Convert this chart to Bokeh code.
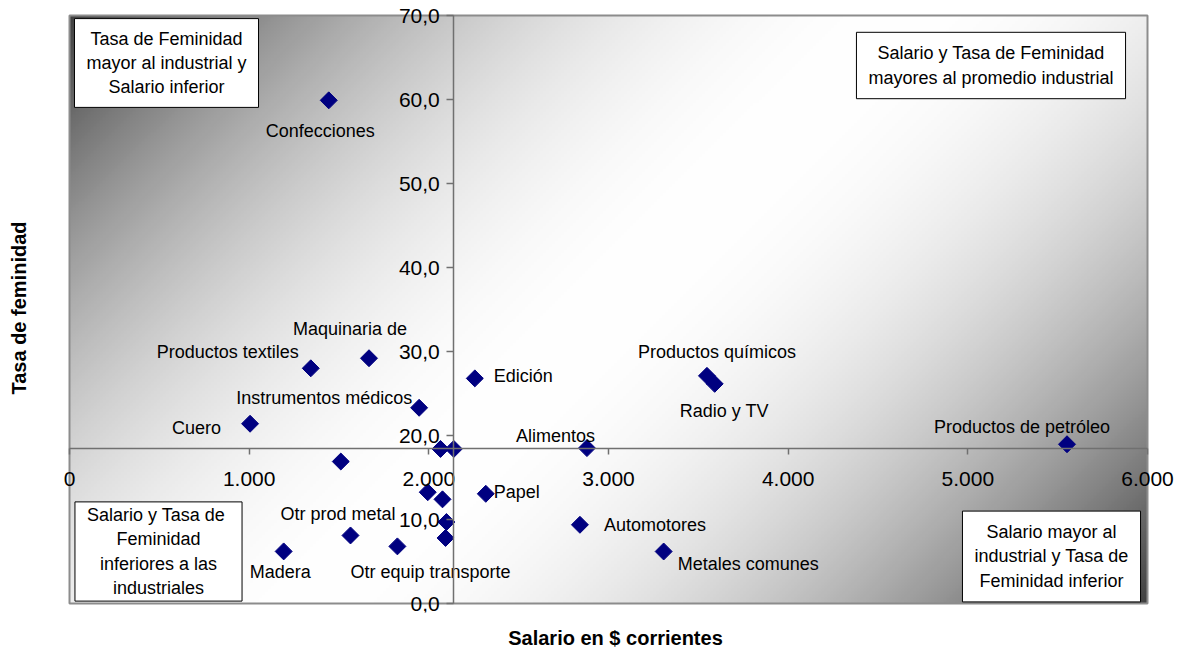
import numpy as np
from math import pi
from bokeh.plotting import figure
from bokeh.models import (Range1d, FixedTicker, CustomJSTickFormatter, Label,
                          ColumnDataSource, LinearAxis)
from bokeh.core.properties import value
from bokeh.embed import file_html
from bokeh.resources import INLINE

# ---------------- data ----------------
sectores = ["Confecciones", "Productos textiles", "Maquinaria de", "Instrumentos médicos",
            "Cuero", "Otr prod metal", "Madera", "Otr equip transporte", "Edición",
            "Productos químicos", "Radio y TV", "Alimentos", "Productos de petróleo",
            "Papel", "Automotores", "Metales comunes",
            "", "", "", "", "", "", ""]
salario = [1443, 1343, 1667, 1946, 1005, 1564, 1192, 1825, 2256,
           3548, 3591, 2880, 5552, 2317, 2841, 3307,
           2065, 2139, 1510, 1994, 2076, 2098, 2093]
feminidad = [59.9, 28.0, 29.2, 23.3, 21.4, 8.1, 6.2, 6.8, 26.8,
             27.1, 26.15, 18.5, 18.96, 13.06, 9.37, 6.19,
             18.4, 18.4, 16.9, 13.25, 12.4, 9.7, 7.8]
salario_promedio = 2139
feminidad_promedio = 18.5
x_ticks = [0, 1000, 2000, 3000, 4000, 5000, 6000]
y_ticks = [0, 10, 20, 30, 40, 50, 60, 70]

cuadrantes = [
    "Tasa de Feminidad\nmayor al industrial y\nSalario inferior",
    "Salario y Tasa de Feminidad\nmayores al promedio industrial",
    "Salario y  Tasa de\nFeminidad\ninferiores a las\nindustriales",
    "Salario mayor al\nindustrial y Tasa de\nFeminidad inferior",
]
titulo_x = "Salario en $ corrientes"
titulo_y = "Tasa de feminidad"

# ---------------- style ----------------
FONT = "Liberation Sans"
label_dx = [-63, -154, -76, -183, -78, -70, -34, -47, 19, -69, -35, -71, -133, 8, 24, 14]
label_dy = [31, -16, -29, -10, 4, -21, 21, 26, -2, -24, 27, -12, -17, -2, 0, 12]

# plot area (gradient box) is 1078 x 588 px; the frame is padded so tick labels are not cut
PA_W, PA_H = 1078, 588
PAD_L, PAD_R, PAD_T, PAD_B = 14, 28, 12, 9
x0, x1 = x_ticks[0], x_ticks[-1]
y0, y1 = y_ticks[0], y_ticks[-1]
sx = (x1 - x0) / PA_W
sy = (y1 - y0) / PA_H
box_pos = [(111, 549.5), (935.5, 547), (103, 61), (996, 56)]
box_vpad = [10, 11, 3, 11]

p = figure(width=1184, height=652,
           x_range=Range1d(x0 - PAD_L * sx, x1 + PAD_R * sx),
           y_range=Range1d(y0 - PAD_B * sy, y1 + PAD_T * sy),
           output_backend="svg", toolbar_location=None,
           min_border_left=69 - PAD_L, min_border_right=1184 - 1147 - PAD_R,
           min_border_top=15 - PAD_T, min_border_bottom=652 - 603 - PAD_B)
p.title.visible = False
p.background_fill_color = "white"
p.border_fill_color = "white"
p.outline_line_color = None
p.xgrid.visible = False
p.ygrid.visible = False

# diagonal gradient background (white on the diagonal, dark in corners)
nx, ny = 360, 196
gx = (np.arange(nx) + 0.5) / nx * PA_W
gy = (np.arange(ny) + 0.5) / ny * PA_H
GX, GY = np.meshgrid(gx, gy)
t = np.abs((GX - PA_W / 2) - (GY - PA_H / 2)) / ((PA_W + PA_H) / 2)
g = np.clip(255 - 191 * t ** 2, 0, 255).astype(np.uint8)
img = np.empty((ny, nx), dtype=np.uint32)
view = img.view(dtype=np.uint8).reshape((ny, nx, 4))
view[:, :, 0] = g
view[:, :, 1] = g
view[:, :, 2] = g
view[:, :, 3] = 255
p.image_rgba(image=[img], x=x0, y=y0, dw=x1 - x0, dh=y1 - y0, level="image")
p.quad(left=[x0], right=[x1], bottom=[y0], top=[y1], fill_color=None,
       line_color="#8c8c8c", line_width=2)

# axes crossing at averages
for ax in (p.xaxis[0], p.yaxis[0]):
    ax.axis_line_color = "#707070"
    ax.axis_line_width = 1.5
    ax.major_tick_line_color = "#707070"
    ax.major_tick_line_width = 1.5
    ax.minor_tick_line_color = None
    ax.major_tick_in = 0
    ax.major_label_text_font = FONT
    ax.major_label_text_font_size = "21px"
    ax.major_label_text_color = "black"
p.xaxis[0].fixed_location = feminidad_promedio
p.yaxis[0].fixed_location = salario_promedio
p.xaxis[0].bounds = (x0, x1)
p.yaxis[0].bounds = (y0, y1)
p.xaxis[0].major_tick_out = 6
p.yaxis[0].major_tick_out = 7
p.xaxis[0].major_label_standoff = 18
p.yaxis[0].major_label_standoff = 7
p.xaxis[0].ticker = FixedTicker(ticks=x_ticks)
p.yaxis[0].ticker = FixedTicker(ticks=y_ticks)
p.xaxis[0].formatter = CustomJSTickFormatter(code="""
    if (tick == 0) return '0';
    return Math.round(tick).toString().replace(/\\B(?=(\\d{3})+(?!\\d))/g, '.');
""")
p.yaxis[0].formatter = CustomJSTickFormatter(code="return tick.toFixed(1).replace('.', ',');")

# axis titles on outer (tick-less) axes
for side, title, standoff in (("left", titulo_y, 26), ("below", titulo_x, 14)):
    a = LinearAxis(axis_label=title, ticker=FixedTicker(ticks=[]),
                   axis_line_color=None, major_tick_line_color=None,
                   minor_tick_line_color=None, major_tick_out=0, minor_tick_out=0,
                   major_tick_in=0, minor_tick_in=0,
                   axis_label_standoff=standoff, axis_label_text_font=FONT,
                   axis_label_text_font_size="20px", axis_label_text_font_style="bold",
                   axis_label_text_color="black")
    p.add_layout(a, side)

src = ColumnDataSource(dict(x=salario, y=feminidad))
p.scatter("x", "y", source=src, marker="square", size=12, angle=pi / 4,
          fill_color="#000080", line_color="#000080")

n = len(label_dx)
lab = ColumnDataSource(dict(x=salario[:n], y=feminidad[:n], text=sectores[:n],
                            dx=label_dx, dy=label_dy))
p.text("x", "y", text="text", source=lab, x_offset="dx", y_offset="dy",
       text_font=value(FONT), text_font_size="18px", text_color="black",
       text_align="left", text_baseline="middle")

for txt, (bx, by), vp in zip(cuadrantes, box_pos, box_vpad):
    p.add_layout(Label(x=bx, y=by, x_units="screen", y_units="screen", text=txt,
                       text_align="center", text_baseline="middle",
                       text_font=FONT, text_font_size="18px", text_line_height=1.22,
                       text_color="black",
                       background_fill_color="white", border_line_color="black",
                       border_line_width=1,
                       padding=dict(left=12, right=12, top=vp, bottom=vp)))

open("out.html", "w").write(file_html(p, INLINE))
